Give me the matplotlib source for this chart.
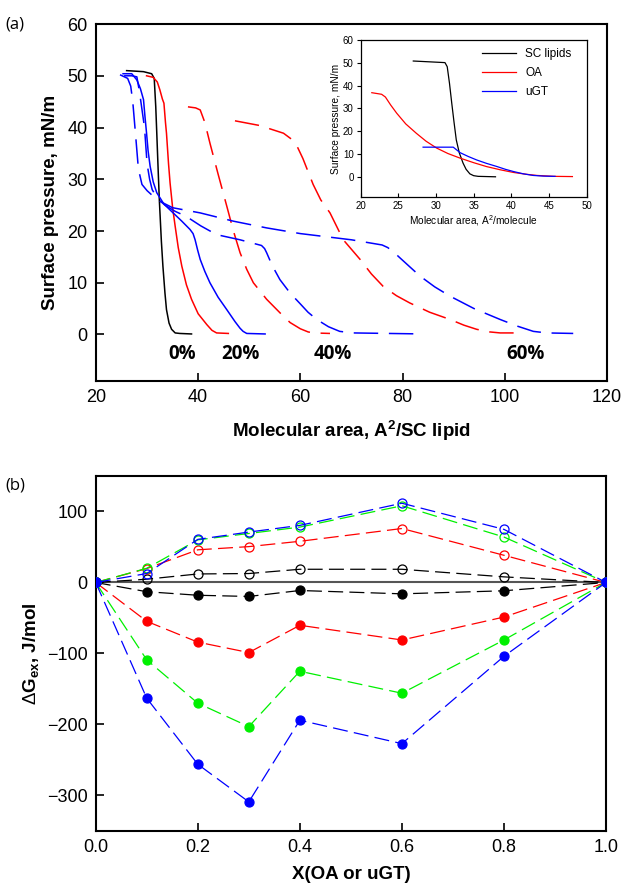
import matplotlib
matplotlib.use("Agg")
import matplotlib.pyplot as plt

plt.rcParams['font.family'] = ['Liberation Sans', 'DejaVu Sans']
plt.rcParams['mathtext.fontset'] = 'custom'
plt.rcParams['mathtext.rm'] = 'Liberation Sans'
plt.rcParams['mathtext.it'] = 'Liberation Sans:italic'
plt.rcParams['mathtext.bf'] = 'Liberation Sans:bold'

# ---------------- Panel (a): isotherms ----------------
sc0_area = [26.0, 29.3, 30.9, 31.4, 31.7, 31.9, 32.2, 32.4, 32.8, 33.1, 33.5, 33.8, 34.3, 34.8, 35.5, 36.4, 38.7]
sc0_pres = [51.0, 50.8, 50.4, 49.5, 44.0, 38.9, 31.0, 26.0, 18.0, 13.2, 8.0, 4.8, 2.2, 1.0, 0.3, 0.2, 0.1]

oa20_area = [29.9, 31.2, 32.0, 32.5, 33.0, 33.3, 33.6, 33.8, 34.2, 34.5, 35.0, 35.5, 36.1, 36.8, 37.7,
             38.7, 40.0, 41.7, 42.7, 43.6, 45.9]
oa20_pres = [50.0, 49.7, 48.8, 47.3, 45.5, 44.7, 41.0, 38.9, 33.0, 29.3, 24.5, 20.9, 16.8, 13.2, 9.6,
             6.8, 4.0, 1.9, 0.8, 0.3, 0.2]

ugt20_area = [25.3, 27.0, 28.0, 28.7, 29.3, 29.6, 29.9, 30.2, 30.6, 31.2, 31.9, 33.3, 35.1, 36.8, 38.4,
              39.0, 39.4, 39.9, 40.4, 41.3, 42.3, 43.9, 45.6, 47.2, 48.2, 48.8, 49.5, 53.1]
ugt20_pres = [50.4, 50.4, 49.2, 47.5, 45.4, 42.0, 38.9, 35.5, 32.5, 29.5, 27.4, 25.2, 23.5, 21.9, 20.3,
              19.5, 18.3, 16.3, 14.5, 12.2, 10.0, 7.2, 4.8, 2.5, 1.2, 0.6, 0.2, 0.1]

oa40_area = [38.0, 39.5, 40.4, 41.3, 42.3, 43.9, 45.6, 46.9, 48.2, 49.5, 50.8, 53.4, 56.0, 58.0,
             60.0, 61.5, 62.5, 65.8]
oa40_pres = [44.0, 43.8, 43.4, 41.0, 37.0, 31.0, 24.8, 20.0, 15.8, 12.6, 10.0, 6.8, 4.2, 2.3,
             1.1, 0.5, 0.3, 0.2]

ugt40_area = [25.5, 27.0, 28.0, 28.5, 29.0, 29.5, 30.0, 30.5, 31.0, 32.0, 33.5, 35.5, 37.7, 40.5, 43.6,
              48.2, 52.4, 53.0, 53.4, 54.5, 56.0, 58.0, 60.0, 61.5, 63.2, 65.5, 67.7, 70.3, 84.1]
ugt40_pres = [50.0, 50.0, 49.8, 47.0, 43.5, 40.0, 33.0, 30.0, 28.0, 26.3, 25.0, 23.8, 22.8, 21.0, 19.3,
              18.3, 17.2, 16.6, 15.8, 13.3, 10.6, 8.0, 5.9, 4.3, 2.9, 1.5, 0.6, 0.3, 0.1]

oa60_area = [47.2, 52.0, 56.7, 58.2, 59.3, 60.5, 62.5, 64.0, 65.8, 68.4, 71.7, 73.9, 76.2, 78.8, 81.4,
             85.3, 89.3, 92.0, 94.5, 97.0, 99.1, 102.3]
oa60_pres = [41.3, 40.4, 38.9, 37.8, 36.5, 34.0, 29.0, 26.0, 23.5, 18.3, 14.5, 11.7, 9.3, 7.5, 6.1,
             4.3, 2.9, 1.8, 1.0, 0.5, 0.3, 0.3]

ugt60_area = [24.7, 26.2, 26.8, 27.2, 27.5, 27.8, 28.3, 29.0, 30.0, 32.0, 35.0, 40.4, 46.9, 53.4, 60.0,
              70.0, 76.0, 77.1, 78.3, 79.5, 81.5, 83.4, 86.3, 89.3, 94.0, 99.1, 102.5, 105.6, 108.2, 113.4]
ugt60_pres = [50.2, 49.5, 48.0, 45.0, 41.5, 38.0, 32.0, 29.0, 27.8, 26.0, 24.5, 23.5, 21.9, 20.6, 19.5,
              18.3, 17.3, 16.8, 15.9, 14.8, 13.0, 11.3, 9.2, 7.4, 5.0, 2.9, 1.6, 0.6, 0.3, 0.2]

pct_labels = ['0%', '20%', '40%', '60%']
pct_x = [36.8, 48.2, 66.4, 104.1]

# inset pure components
in_sc_area = [27.0, 31.2, 31.5, 31.8, 32.1, 32.4, 32.7, 33.1, 33.6, 34.0, 34.5, 35.0, 35.6, 37.9]
in_sc_pres = [50.8, 50.1, 48.3, 41.0, 32.3, 24.0, 16.2, 10.5, 6.0, 3.3, 1.3, 0.5, 0.2, 0.0]
in_oa_area = [21.5, 22.8, 23.3, 24.0, 24.8, 26.0, 27.4, 28.7, 30.1, 31.6, 33.2, 35.0, 36.7, 38.5,
              40.3, 42.0, 43.4, 45.6, 48.1]
in_oa_pres = [36.9, 36.2, 35.0, 31.5, 27.9, 23.2, 19.1, 15.6, 12.6, 10.2, 8.2, 6.2, 4.5, 3.1,
              1.9, 1.1, 0.6, 0.2, 0.1]
in_ugt_area = [28.3, 32.3, 33.2, 34.3, 35.4, 36.7, 38.1, 39.2, 40.3, 41.6, 42.9, 44.3, 45.8]
in_ugt_pres = [13.0, 13.0, 10.6, 8.9, 7.4, 5.9, 4.5, 3.3, 2.3, 1.3, 0.6, 0.3, 0.2]

# ---------------- Panel (b): excess free energy ----------------
x_frac = [0.0, 0.1, 0.2, 0.3, 0.4, 0.6, 0.8, 1.0]
open_black = [0, 4.6, 12, 12.6, 18.6, 18.6, 7.9, 0]
open_red = [0, 19.6, 46, 50.5, 58, 76, 38.3, 0]
open_green = [0, 20, 60, 69, 78, 108, 64, 0]
open_blue = [0, 12.6, 60.7, 71, 80.4, 111.6, 74.8, 0]
fill_black = [0, -13, -18, -19.7, -11.3, -16, -11.7, 0]
fill_red = [0, -54.7, -84, -98.7, -60.3, -81, -48.7, 0]
fill_green = [0, -109, -170, -203, -125, -156, -81, 0]
fill_blue = [0, -163, -256, -309, -194, -227, -104, 0]

BLACK, RED, GREEN, BLUE = '#000000', '#ff0000', '#00f000', '#0000ff'

fig = plt.figure(figsize=(6.22, 8.88), dpi=100)

# ---- (a)
ax1 = fig.add_axes([0.1543, 0.5709, 0.8215, 0.4020])
dash_a = (0, (16, 7))
lw = 1.1
ax1.plot(sc0_area, sc0_pres, color=BLACK, lw=lw)
ax1.plot(oa20_area, oa20_pres, color=RED, lw=lw)
ax1.plot(ugt20_area, ugt20_pres, color=BLUE, lw=lw)
ax1.plot(oa40_area, oa40_pres, color=RED, lw=lw, linestyle=dash_a)
ax1.plot(ugt40_area, ugt40_pres, color=BLUE, lw=lw, linestyle=dash_a)
ax1.plot(oa60_area, oa60_pres, color=RED, lw=lw, linestyle=dash_a)
ax1.plot(ugt60_area, ugt60_pres, color=BLUE, lw=lw, linestyle=dash_a)
for lab, xx in zip(pct_labels, pct_x):
    ax1.text(xx, -3.7, lab, ha='center', va='center', fontsize=13.5,
             fontweight='bold', family=['Open Sans', 'DejaVu Sans'])
ax1.set_xlim(20, 120)
ax1.set_ylim(-9, 60)
ax1.set_xticks([20, 40, 60, 80, 100, 120])
ax1.set_yticks([0, 10, 20, 30, 40, 50, 60])
ax1.tick_params(direction='in', length=6, width=1.2, labelsize=13, pad=6)
for s in ax1.spines.values():
    s.set_linewidth(1.5)
ax1.set_xlabel(r'Molecular area, A$^{\mathbf{2}}$/SC lipid', fontsize=13.5,
               fontweight='bold', labelpad=9)
ax1.set_ylabel('Surface pressure, mN/m', fontsize=13.5, fontweight='bold', labelpad=6)

# inset
axi = fig.add_axes([0.5796, 0.7778, 0.3637, 0.1771])
axi.plot(in_sc_area, in_sc_pres, color=BLACK, lw=0.9, label='SC lipids')
axi.plot(in_oa_area, in_oa_pres, color=RED, lw=0.9, label='OA')
axi.plot(in_ugt_area, in_ugt_pres, color=BLUE, lw=0.9, label='uGT')
axi.set_xlim(20, 50)
axi.set_ylim(-9, 60)
axi.set_xticks([20, 25, 30, 35, 40, 45, 50])
axi.set_yticks([0, 10, 20, 30, 40, 50, 60])
axi.tick_params(axis='y', direction='out', length=3, width=0.8, labelsize=7, pad=2)
axi.tick_params(axis='x', direction='in', length=3, width=0.8, labelsize=7, pad=3)
for s in axi.spines.values():
    s.set_linewidth(0.9)
axi.set_xlabel(r'Molecular area, A$^2$/molecule', fontsize=7.3, labelpad=1)
axi.set_ylabel('Surface pressure, mN/m', fontsize=7.3, labelpad=1)
axi.legend(loc='upper right', frameon=False, fontsize=8.5, handlelength=2.9,
           labelspacing=0.6, borderaxespad=0.3, bbox_to_anchor=(0.97, 1.0))

fig.text(0.008, 0.972, '(a)', fontsize=12, va='center', family=['Open Sans', 'DejaVu Sans'])

# ---- (b)
ax2 = fig.add_axes([0.1539, 0.0642, 0.8204, 0.3998])
dash_b = (0, (12, 5))
ax2.axhline(0, color='#555555', lw=1.5, zorder=1)
series = [(open_black, BLACK, False), (fill_black, BLACK, True),
          (open_red, RED, False), (fill_red, RED, True),
          (open_green, GREEN, False), (fill_green, GREEN, True),
          (open_blue, BLUE, False), (fill_blue, BLUE, True)]
for vals, c, filled in series:
    ax2.plot(x_frac, vals, color=c, lw=0.9, linestyle=dash_b, marker='o',
             markersize=6.5, markerfacecolor=c if filled else 'none',
             markeredgecolor=c, markeredgewidth=0.9, zorder=3)
ax2.set_xlim(0, 1.0)
ax2.set_ylim(-350, 150)
ax2.set_xticks([0.0, 0.2, 0.4, 0.6, 0.8, 1.0])
ax2.set_xticklabels(['0.0', '0.2', '0.4', '0.6', '0.8', '1.0'])
ax2.set_yticks([-300, -200, -100, 0, 100])
ax2.tick_params(direction='in', length=6, width=1.2, labelsize=13, pad=6)
for s in ax2.spines.values():
    s.set_linewidth(1.5)
ax2.set_xlabel('X(OA or uGT)', fontsize=13.5, fontweight='bold', labelpad=7)
ax2.set_ylabel(r'$\Delta$G$_{\mathbf{ex}}$, J/mol', fontsize=13.5, fontweight='bold', labelpad=4)

fig.text(0.008, 0.453, '(b)', fontsize=12, va='center', family=['Open Sans', 'DejaVu Sans'])

fig.savefig('out.png', dpi=100)
